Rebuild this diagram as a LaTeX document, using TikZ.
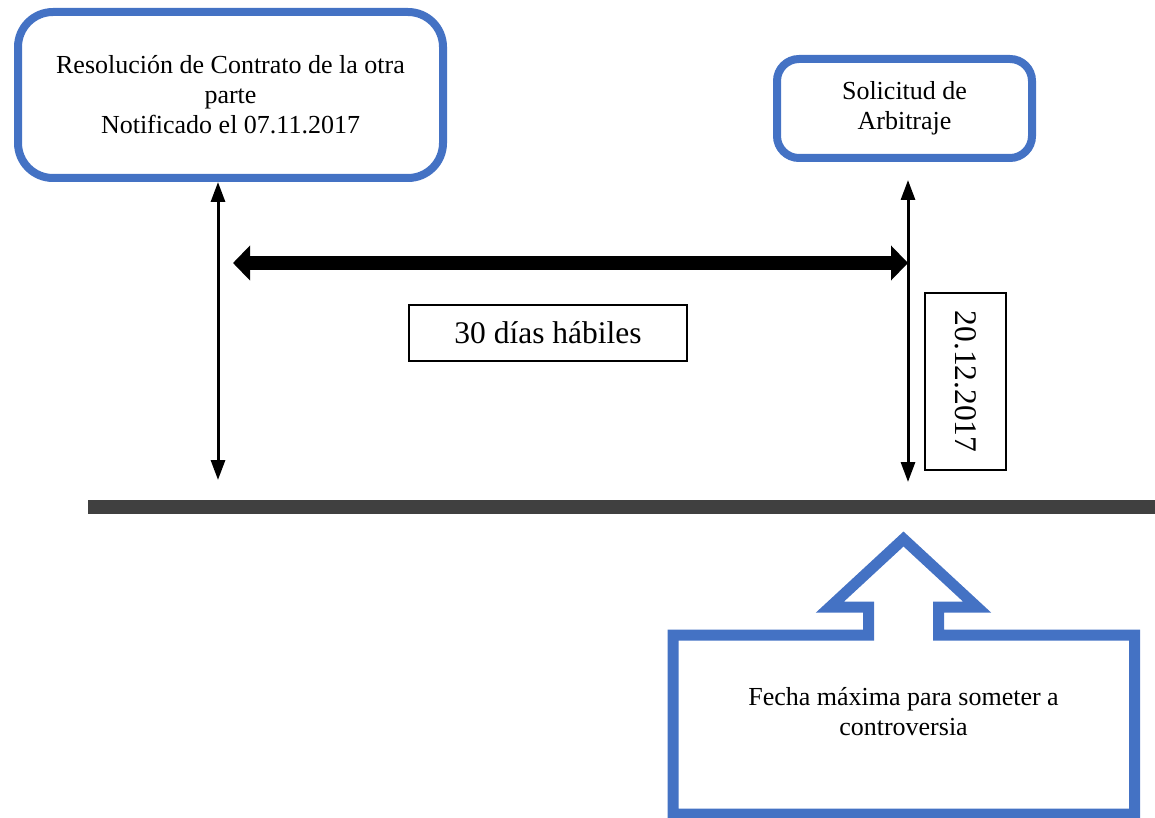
\documentclass[tikz,border=0pt]{standalone}
\usepackage{fontspec}
\setmainfont{Liberation Serif}
\usetikzlibrary{arrows.meta}
\definecolor{boxblue}{HTML}{4472C4}
\definecolor{barcol}{HTML}{404040}
\begin{document}
\begin{tikzpicture}[x=1pt,y=-1pt,
  bluebox/.style={draw=boxblue, line width=8pt, align=center, inner sep=0pt,
    font=\fontsize{26}{30}\selectfont},
  plainbox/.style={draw=black, line width=1.6pt, inner sep=0pt,
    font=\fontsize{31.5}{36}\selectfont},
  thinarrow/.style={line width=3pt, {Triangle[length=20pt,width=14pt]}-{Triangle[length=20pt,width=14pt]}},
  thickarrow/.style={line width=14pt, {Triangle[length=17pt,width=34pt]}-{Triangle[length=17pt,width=34pt]}},
  calloutline/.style={draw=boxblue, line width=11pt, miter limit=10, line join=miter}
]
\useasboundingbox (0,0) rectangle (1155,818);

% top boxes
\node[bluebox, rounded corners=35pt, minimum width=425pt, minimum height=166pt]
  (b1) at (230.5,95) {Resolución de Contrato de la otra\\parte\\Notificado el 07.11.2017};
\node[bluebox, rounded corners=22pt, minimum width=255pt, minimum height=99pt]
  (b2) at (904.5,108.5) {Solicitud de\\Arbitraje};

% arrow end points
\coordinate (l1) at (218,182);
\coordinate (l2) at (218,480);
\coordinate (r1) at (908,180);
\coordinate (r2) at (908,482);
\coordinate (h1) at (233,263);
\coordinate (h2) at (908,263);

\draw[thinarrow] (l1) -- (l2);
\draw[thinarrow] (r1) -- (r2);
\draw[thickarrow] (h1) -- (h2);

% label boxes
\node[plainbox, minimum width=278pt, minimum height=56pt] (dias) at (548,333) {30 días hábiles};
\node[plainbox, rotate=-90, minimum width=177pt, minimum height=81pt] (fecha) at (965.5,381.5) {20.12.2017};

% timeline bar
\coordinate (t1) at (88,507);
\coordinate (t2) at (1160,507);
\draw[barcol, line width=14pt] (t1) -- (t2);

% callout
\draw[calloutline] (673,814) -- (673,635) -- (868.5,635) -- (868.5,607) -- (830,607)
  -- (903.5,539) -- (977,607) -- (938.5,607) -- (938.5,635) -- (1134.5,635)
  -- (1134.5,814) -- cycle;
\node[align=center, font=\fontsize{26}{30}\selectfont, inner sep=0pt] (cal) at (903.5,712)
  {Fecha máxima para someter a\\controversia};
\end{tikzpicture}
\end{document}
